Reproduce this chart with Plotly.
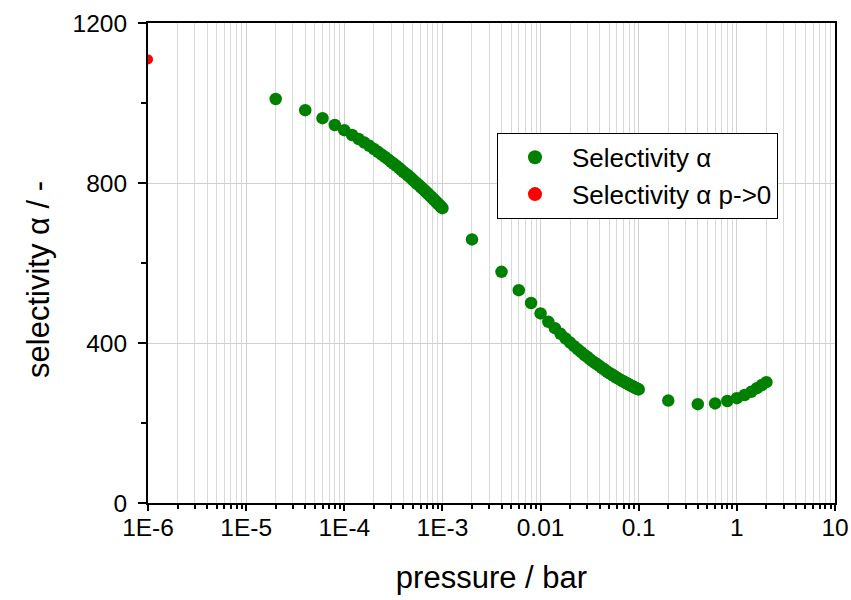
import plotly.graph_objects as go

# ---- data ----
p_sel = [2e-5, 4e-5, 6e-5, 8e-5,
         1.0e-4, 1.2e-4, 1.4e-4, 1.6e-4, 1.8e-4, 2.0e-4, 2.2e-4, 2.4e-4, 2.6e-4, 2.8e-4,
         3.0e-4, 3.2e-4, 3.4e-4, 3.6e-4, 3.8e-4, 4.0e-4, 4.2e-4, 4.4e-4, 4.6e-4, 4.8e-4,
         5.0e-4, 5.2e-4, 5.4e-4, 5.6e-4, 5.8e-4, 6.0e-4, 6.2e-4, 6.4e-4, 6.6e-4, 6.8e-4,
         7.0e-4, 7.2e-4, 7.4e-4, 7.6e-4, 7.8e-4, 8.0e-4, 8.2e-4, 8.4e-4, 8.6e-4, 8.8e-4,
         9.0e-4, 9.2e-4, 9.4e-4, 9.6e-4, 9.8e-4, 1.0e-3,
         2e-3, 4e-3, 6e-3, 8e-3,
         0.010, 0.012, 0.014, 0.016, 0.018, 0.020, 0.022, 0.024, 0.026, 0.028,
         0.030, 0.032, 0.034, 0.036, 0.038, 0.040, 0.042, 0.044, 0.046, 0.048,
         0.050, 0.052, 0.054, 0.056, 0.058, 0.060, 0.062, 0.064, 0.066, 0.068,
         0.070, 0.072, 0.074, 0.076, 0.078, 0.080, 0.082, 0.084, 0.086, 0.088,
         0.090, 0.092, 0.094, 0.096, 0.098, 0.100,
         0.2, 0.4, 0.6, 0.8, 1.0, 1.2, 1.4, 1.6, 1.8, 2.0]

alpha_sel = [1010, 982, 962, 945,
             932, 920, 910, 901, 893, 885, 878, 871, 865, 859,
             853, 848, 843, 838, 833, 828, 824, 820, 816, 812,
             808, 804, 800, 797, 794, 790, 787, 784, 781, 778,
             775, 772, 769, 766, 764, 761, 758, 756, 753, 751,
             748, 746, 744, 741, 739, 737,
             659, 578, 532, 500,
             474, 453, 437, 423, 411, 401, 392, 384, 377, 370,
             365, 359, 354, 350, 346, 342, 338, 335, 331, 328,
             325, 323, 320, 318, 315, 313, 311, 309, 307, 305,
             304, 302, 300, 299, 297, 296, 294, 293, 292, 291,
             289, 288, 287, 286, 285, 284,
             256, 247, 249, 255, 262, 270, 278, 287, 295, 302]

p_zero = [1e-6]
alpha_zero = [1109]

series_names = ["Selectivity α", "Selectivity α p->0"]
series_colors = ["#008000", "#FF0000"]

x_tickvals = [1e-6, 1e-5, 1e-4, 1e-3, 1e-2, 1e-1, 1, 10]
x_ticktext = ["1E-6", "1E-5", "1E-4", "1E-3", "0.01", "0.1", "1", "10"]

FONT = "Liberation Sans, Arial, sans-serif"

minor_vals = [m * 10.0 ** e for e in range(-6, 1) for m in range(2, 10)]

fig = go.Figure()
fig.add_trace(go.Scatter(x=p_sel, y=alpha_sel, mode="markers",
                         name=series_names[0], showlegend=False,
                         marker=dict(color=series_colors[0], size=12.5)))
fig.add_trace(go.Scatter(x=p_zero, y=alpha_zero, mode="markers",
                         name=series_names[1], showlegend=False,
                         marker=dict(color=series_colors[1], size=10)))
# legend entries (larger symbols as in the reference legend)
for nm, col in zip(series_names, series_colors):
    fig.add_trace(go.Scatter(x=[None], y=[None], mode="markers", name=nm,
                             marker=dict(color=col, size=14), showlegend=True))

fig.update_layout(
    width=851, height=600,
    margin=dict(l=148, r=16, t=23, b=97),
    plot_bgcolor="white", paper_bgcolor="white",
    font=dict(family=FONT, color="black", size=24),
    showlegend=True,
    legend=dict(x=0.508, y=0.771, xanchor="left", yanchor="top",
                bordercolor="black", borderwidth=1, bgcolor="white",
                font=dict(size=26, family=FONT), itemwidth=64,
                tracegroupgap=0),
    annotations=[dict(text="selectivity α / -", textangle=-90,
                      xref="paper", yref="paper",
                      x=-0.1587, y=0.4667, xanchor="center", yanchor="middle",
                      showarrow=False, font=dict(size=31, family=FONT))],
)

fig.update_xaxes(
    type="log", range=[-6, 1], automargin=False,
    tickmode="array", tickvals=x_tickvals, ticktext=x_ticktext,
    ticks="outside", ticklen=6, tickwidth=1.5, tickcolor="black",
    showline=True, linecolor="black", linewidth=2, mirror=True,
    showgrid=True, gridcolor="#d0d0d0", gridwidth=1,
    minor=dict(tickmode="array", tickvals=minor_vals, ticks="outside",
               ticklen=4, tickwidth=1.5, tickcolor="black",
               showgrid=True, gridcolor="#d9d9d9", gridwidth=1),
    tickfont=dict(size=24.5, family=FONT), ticklabelstandoff=-4,
    title=dict(text="pressure / bar", font=dict(size=31, family=FONT), standoff=26),
    zeroline=False,
)
fig.update_yaxes(
    range=[0, 1200], tickmode="linear", tick0=0, dtick=400, automargin=False,
    ticks="outside", ticklen=8, tickwidth=1.5, tickcolor="black",
    showline=True, linecolor="black", linewidth=2, mirror=True,
    showgrid=True, gridcolor="#d0d0d0", gridwidth=1,
    minor=dict(dtick=200, ticks="outside", ticklen=5, tickwidth=1.5,
               tickcolor="black", showgrid=False),
    tickfont=dict(size=24.5, family=FONT), ticklabelstandoff=6,
    zeroline=False,
)

fig.write_html("out.html")
